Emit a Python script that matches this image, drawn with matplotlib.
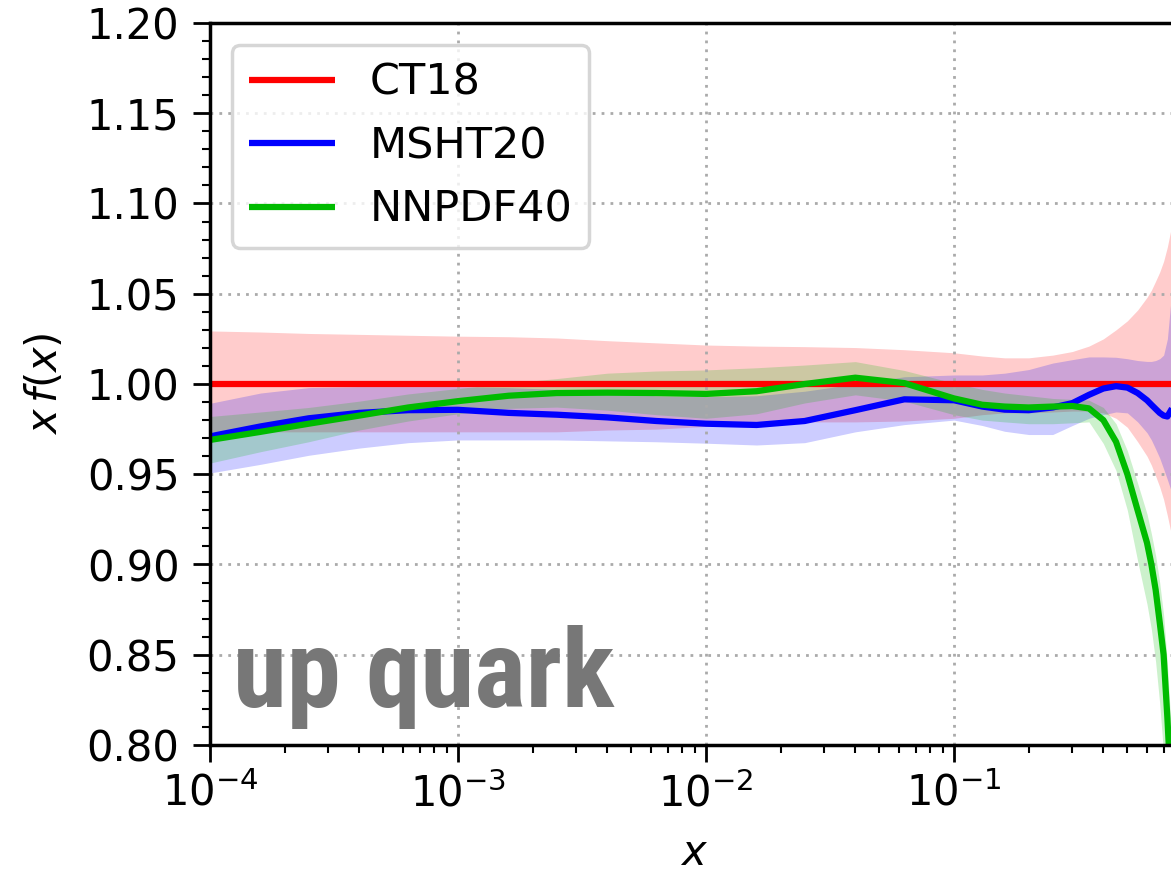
import matplotlib
matplotlib.use("Agg")
import matplotlib.pyplot as plt
from matplotlib import font_manager
from matplotlib.ticker import MultipleLocator, FormatStrFormatter, LogLocator, NullFormatter, FixedLocator
import numpy as np

# x grid shared by all PDF sets
x = [1e-4, 1.6e-4, 2.5e-4, 4e-4, 6.3e-4, 1e-3, 1.6e-3, 2.5e-3, 4e-3, 6.3e-3,
     1e-2, 1.6e-2, 2.5e-2, 4e-2, 6.3e-2, 0.1, 0.13, 0.16, 0.2, 0.25, 0.3,
     0.35, 0.4, 0.45, 0.5, 0.55, 0.6, 0.625, 0.65, 0.675, 0.7, 0.725, 0.75, 0.8]

# CT18 (reference set, ratio = 1)
ct18_central = [1.0] * len(x)
ct18_upper = [1.0294, 1.0288, 1.028, 1.0275, 1.027, 1.0265, 1.0262, 1.0255, 1.024,
              1.0228, 1.0216, 1.021, 1.0207, 1.0202, 1.019, 1.0173, 1.0155, 1.0145,
              1.0145, 1.016, 1.018, 1.021, 1.025, 1.030, 1.035, 1.041, 1.048, 1.052,
              1.057, 1.062, 1.068, 1.076, 1.086, 1.11]
ct18_lower = [0.9735, 0.9735, 0.9735, 0.9735, 0.9735, 0.9735, 0.9735, 0.9735, 0.9745,
              0.975, 0.9765, 0.978, 0.979, 0.979, 0.9795, 0.981, 0.983, 0.984,
              0.984, 0.9845, 0.985, 0.985, 0.984, 0.981, 0.976, 0.968, 0.960, 0.955,
              0.949, 0.943, 0.936, 0.927, 0.9175, 0.895]

# MSHT20
msht20_central = [0.971, 0.9765, 0.981, 0.984, 0.9855, 0.9857, 0.984, 0.983, 0.9815,
                  0.9795, 0.978, 0.9773, 0.9795, 0.9855, 0.9915, 0.991, 0.9875,
                  0.9858, 0.9855, 0.987, 0.9894, 0.994, 0.9975, 0.9988, 0.998, 0.995,
                  0.991, 0.9885, 0.9862, 0.984, 0.9825, 0.982, 0.9855, 0.992]
msht20_upper = [0.9893, 0.995, 0.998, 0.9985, 0.9985, 0.9985, 0.998, 0.997, 0.995,
                0.9935, 0.993, 0.9935, 0.996, 1.0, 1.004, 1.005, 1.005, 1.006, 1.008,
                1.0116, 1.0135, 1.015, 1.015, 1.0148, 1.014, 1.013, 1.0125, 1.0125,
                1.013, 1.014, 1.016, 1.025, 1.047, 1.08]
msht20_lower = [0.9507, 0.9555, 0.9605, 0.9645, 0.9675, 0.969, 0.969, 0.969, 0.9685,
                0.968, 0.9672, 0.9662, 0.9675, 0.9735, 0.9775, 0.980, 0.977, 0.9738,
                0.972, 0.972, 0.977, 0.981, 0.983, 0.9845, 0.984, 0.979, 0.973, 0.969,
                0.964, 0.959, 0.953, 0.947, 0.941, 0.925]

# NNPDF40
nnpdf40_central = [0.969, 0.9735, 0.978, 0.9825, 0.987, 0.9905, 0.9935, 0.995, 0.9952,
                   0.995, 0.9945, 0.996, 1.0, 1.0035, 1.0005, 0.992, 0.9885, 0.9875,
                   0.987, 0.9875, 0.9878, 0.9865, 0.980, 0.968, 0.950, 0.930, 0.912,
                   0.900, 0.886, 0.868, 0.850, 0.815, 0.775, 0.68]
nnpdf40_upper = [0.982, 0.9845, 0.987, 0.9905, 0.9945, 0.9975, 1.0005, 1.003, 1.006,
                 1.0072, 1.0078, 1.009, 1.0105, 1.0124, 1.0075, 1.0005, 0.997, 0.995,
                 0.9935, 0.992, 0.9915, 0.991, 0.987, 0.978, 0.963, 0.945, 0.928,
                 0.917, 0.905, 0.890, 0.872, 0.845, 0.81, 0.73]
nnpdf40_lower = [0.9562, 0.9625, 0.968, 0.9745, 0.9795, 0.9835, 0.9865, 0.9872, 0.9855,
                 0.983, 0.981, 0.9835, 0.9895, 0.994, 0.9905, 0.983, 0.980, 0.979,
                 0.978, 0.978, 0.9785, 0.979, 0.967, 0.952, 0.930, 0.902, 0.878, 0.864,
                 0.846, 0.823, 0.795, 0.76, 0.72, 0.62]

labels = ["CT18", "MSHT20", "NNPDF40"]
colors = ["#ff0000", "#0000ff", "#00bb00"]
centrals = [ct18_central, msht20_central, nnpdf40_central]
uppers = [ct18_upper, msht20_upper, nnpdf40_upper]
lowers = [ct18_lower, msht20_lower, nnpdf40_lower]

y_ticks = [0.80, 0.85, 0.90, 0.95, 1.00, 1.05, 1.10, 1.15, 1.20]
x_ticks = [1e-4, 1e-3, 1e-2, 1e-1]


def pick_font(candidates):
    names = {f.name for f in font_manager.fontManager.ttflist}
    for c in candidates:
        if c in names:
            return c
    return "DejaVu Sans"


plt.rcParams["font.family"] = ["DejaVu Sans"]
plt.rcParams["mathtext.fontset"] = "dejavusans"

FS = 30
fig = plt.figure(figsize=(11.71, 8.76), dpi=100)
W, H = 1171.0, 876.0
ax = fig.add_axes([210 / W, 1 - 745 / H, 968 / W, 722 / H])

for c, lo, hi in zip(colors, lowers, uppers):
    ax.fill_between(x, lo, hi, color=c, alpha=0.2, lw=0)
for lab, c, cen in zip(labels, colors, centrals):
    ax.plot(x, cen, color=c, lw=4.5, label=lab, solid_capstyle="butt")

ax.set_xscale("log")
ax.set_xlim(1e-4, 0.8)
ax.set_ylim(0.80, 1.20)
ax.xaxis.set_major_locator(FixedLocator(x_ticks))
ax.set_yticks(y_ticks)
ax.yaxis.set_major_formatter(FormatStrFormatter("%.2f"))
ax.yaxis.set_minor_locator(MultipleLocator(0.01))
ax.xaxis.set_minor_locator(LogLocator(base=10, subs=np.arange(2, 10)))
ax.xaxis.set_minor_formatter(NullFormatter())

ax.grid(True, which="major", color="#aaaaaa", lw=2.0, linestyle=(0, (1, 2.2)))
for s in ax.spines.values():
    s.set_linewidth(2.5)
ax.spines["right"].set_visible(False)

ax.tick_params(which="major", length=12, width=2, labelsize=FS, direction="out")
ax.tick_params(which="minor", length=6, width=1.5, direction="out")
ax.tick_params(axis="y", which="major", pad=10)
ax.tick_params(axis="x", which="major", pad=8)

ax.set_xlabel("$x$", fontsize=FS)
ax.set_ylabel(r"$x\,f(x)$", fontsize=FS)
ax.yaxis.set_label_coords(-0.149, 0.5)
ax.xaxis.set_label_coords(0.5, -0.121)

leg = ax.legend(loc="upper left", fontsize=31, handlelength=2.0)
leg.get_frame().set_linewidth(2.5)

# condensed banner naming the parton
banner_font = pick_font(["Roboto Condensed", "Liberation Sans Narrow",
                         "Open Sans Condensed", "DejaVu Sans Condensed"])
t = fig.text(233 / W, 1 - 707 / H, "up quark", fontsize=80, color="#777777",
             fontweight="bold", family=banner_font, ha="left", va="baseline")
fig.canvas.draw()
w = t.get_window_extent().width
t.set_fontsize(80 * 382.0 / w)

fig.savefig("out.png", dpi=100)
